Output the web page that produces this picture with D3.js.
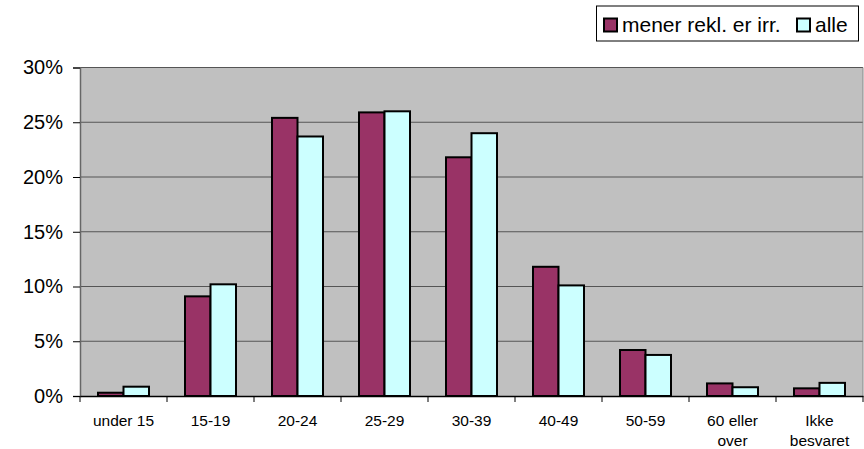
<!DOCTYPE html>
<html><head><meta charset="utf-8">
<script src="https://cdn.jsdelivr.net/npm/d3@7"></script>
<style>body{margin:0;background:#fff}svg{display:block;font-family:"Liberation Sans",Arial,sans-serif}</style>
</head><body>
<svg id="c" width="864" height="449"></svg>
<script>
const categories = ["under 15","15-19","20-24","25-29","30-39","40-49","50-59","60 eller|over","Ikke|besvaret"];
const seriesNames = ["mener rekl. er irr.","alle"];
const seriesA = [0.3, 9.1, 25.4, 25.9, 21.8, 11.8, 4.2, 1.15, 0.7];
const seriesB = [0.85, 10.2, 23.7, 26.0, 24.0, 10.1, 3.75, 0.8, 1.2];
const yTicks = [0,5,10,15,20,25,30];
const colors = ["#993366","#ccffff"];

const svg = d3.select("#c");
const L=80, R=863, T=67.5, B=396;
const x = d3.scaleBand().domain(categories).range([L,R]).paddingInner(0).paddingOuter(0);
const y = d3.scaleLinear().domain([0,30]).range([B,T]);
const inner = d3.scaleBand().domain([0,1]).range([0, x.bandwidth()]).paddingInner(0).paddingOuter(0.706);

svg.append("rect").attr("x",L).attr("y",T).attr("width",R-L).attr("height",B-T).attr("fill","#c0c0c0");
// gridlines
svg.append("g").selectAll("line").data(yTicks.filter(d=>d>0)).join("line")
  .attr("x1",L).attr("x2",R).attr("y1",d=>y(d)).attr("y2",d=>y(d))
  .attr("stroke","#555").attr("stroke-width",1);
// right border
svg.append("line").attr("x1",R).attr("x2",R).attr("y1",T).attr("y2",B).attr("stroke","#888");

const data = categories.map((c,i)=>({c, v:[seriesA[i],seriesB[i]]}));
const g = svg.append("g");
data.forEach(d=>{
  d.v.forEach((v,k)=>{
    g.append("rect").attr("x",x(d.c)+inner(k)).attr("y",y(v))
      .attr("width",inner.bandwidth()).attr("height",B-y(v))
      .attr("fill",colors[k]).attr("stroke","#000").attr("stroke-width",2);
  });
});

// y axis
const ya = d3.axisLeft(y).tickValues(yTicks).tickFormat(d=>d+"%").tickSize(7).tickPadding(10);
const yg = svg.append("g").attr("transform",`translate(${L},0)`).call(ya);
yg.select(".domain").attr("stroke","#666").attr("stroke-width",1.5);
yg.selectAll(".tick line").attr("stroke","#000");
yg.selectAll("text").attr("font-size",20).attr("fill","#000").attr("font-family","Liberation Sans, Arial, sans-serif");

// x axis
const xa = d3.axisBottom(x).tickSize(0).tickFormat("");
const xg = svg.append("g").attr("transform",`translate(0,${B})`).call(xa);
xg.select(".domain").attr("stroke","#000").attr("stroke-width",1.5);
xg.selectAll(".xt").data(d3.range(categories.length+1)).join("line")
  .attr("x1",i=>L+i*x.bandwidth()).attr("x2",i=>L+i*x.bandwidth()).attr("y1",0).attr("y2",6).attr("stroke","#000");
categories.forEach(c=>{
  const lines=c.split("|");
  const t=svg.append("text").attr("x",x(c)+x.bandwidth()/2).attr("y",426)
    .attr("text-anchor","middle").attr("font-size",15.5).attr("fill","#000");
  lines.forEach((ln,j)=>t.append("tspan").attr("x",x(c)+x.bandwidth()/2).attr("dy",j?19.5:0).text(ln));
});

// legend
const lg = svg.append("g");
lg.append("rect").attr("x",596.5).attr("y",6).attr("width",262).attr("height",35).attr("fill","#fff").attr("stroke","#000");
const items=[{x:603},{x:796}];
seriesNames.forEach((n,k)=>{
  lg.append("rect").attr("x",items[k].x+1).attr("y",18.5).attr("width",13).attr("height",13)
    .attr("fill",colors[k]).attr("stroke","#000").attr("stroke-width",2);
  lg.append("text").attr("x",items[k].x+19).attr("y",32).attr("font-size",21).attr("fill","#000").text(n);
});
</script>
</body></html>
